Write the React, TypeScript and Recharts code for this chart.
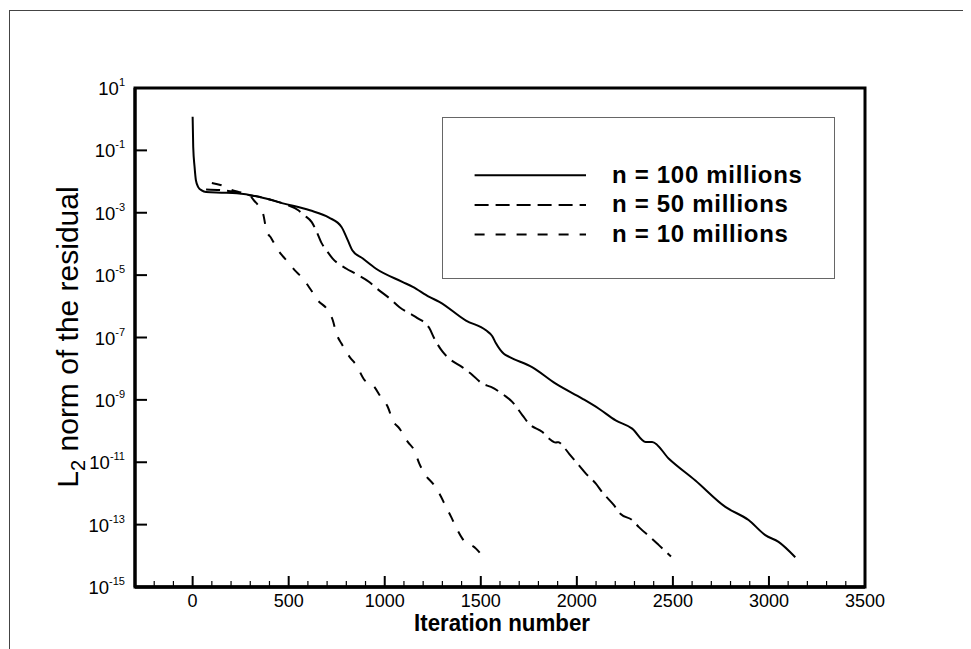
import React from 'react';
import { LineChart, Line, XAxis, YAxis, Legend, ReferenceArea, Customized } from 'recharts';

const FONT = 'Liberation Sans, Arial, Helvetica, sans-serif';

const seriesNames = ['n = 100 millions', 'n = 50 millions', 'n = 10 millions'];

const iter100 = [0, 3, 10, 17, 30, 47, 70, 150, 230, 350, 470, 610, 710, 775, 808, 831, 886, 955, 1094, 1146, 1232, 1284, 1423, 1527, 1560, 1579, 1620, 1648, 1769, 1890, 2028, 2115, 2202, 2288, 2358, 2392, 2479, 2617, 2773, 2894, 2981, 3050, 3137];
const res100 = [1.2, 0.13, 0.03, 0.011, 6.5e-3, 5.2e-3, 4.6e-3, 4.4e-3, 4.2e-3, 3.2e-3, 2.0e-3, 1.2e-3, 7e-4, 3.5e-4, 1.3e-4, 6.3e-5, 3.4e-5, 1.6e-5, 6e-6, 4.2e-6, 2e-6, 1.4e-6, 3.5e-7, 1.7e-7, 1.1e-7, 6.5e-8, 3e-8, 2.4e-8, 1.1e-8, 3.3e-9, 1.1e-9, 5.2e-10, 2.2e-10, 1.2e-10, 4.5e-11, 4.5e-11, 1.3e-11, 2.6e-12, 3.7e-13, 1.4e-13, 4.6e-14, 2.8e-14, 9e-15];

const iter50 = [70, 150, 210, 300, 350, 420, 470, 550, 584, 620, 645, 670, 696, 729, 801, 843, 921, 957, 1025, 1077, 1128, 1170, 1232, 1258, 1301, 1336, 1405, 1449, 1509, 1553, 1622, 1665, 1717, 1752, 1821, 1855, 1890, 1905, 1924, 1959, 2011, 2046, 2098, 2132, 2193, 2228, 2288, 2323, 2392, 2427, 2490];
const res50 = [5.6e-3, 5.3e-3, 4.8e-3, 3.6e-3, 3.2e-3, 2.5e-3, 2e-3, 1.2e-3, 8e-4, 5e-4, 2.5e-4, 1.1e-4, 6.3e-5, 3.4e-5, 1.6e-5, 1.15e-5, 5.9e-6, 3.8e-6, 1.8e-6, 9.3e-7, 6e-7, 4.2e-7, 2e-7, 9.3e-8, 3.5e-8, 2.1e-8, 1.1e-8, 6.9e-9, 3.3e-9, 2.6e-9, 1.4e-9, 8.5e-10, 3.2e-10, 1.7e-10, 9.3e-11, 5.8e-11, 4.3e-11, 4.4e-11, 3.5e-11, 1.9e-11, 7.9e-12, 4.4e-12, 2.1e-12, 1.1e-12, 4.2e-13, 2.2e-13, 1.4e-13, 8.3e-14, 3.5e-14, 2.2e-14, 9.5e-15];

const iter10 = [100, 150, 200, 260, 300, 324, 341, 367, 384, 410, 445, 488, 531, 574, 618, 652, 704, 730, 748, 774, 817, 852, 895, 938, 981, 1016, 1042, 1077, 1120, 1154, 1180, 1206, 1258, 1284, 1319, 1345, 1379, 1405, 1475, 1505];
const res10 = [9e-3, 7.6e-3, 5.5e-3, 4.3e-3, 3.4e-3, 2.3e-3, 1.75e-3, 9.3e-4, 2.8e-4, 1.5e-4, 6.3e-5, 3e-5, 1.45e-5, 7.8e-6, 3.2e-6, 1.55e-6, 7.4e-7, 3.5e-7, 1.35e-7, 6.5e-8, 2.4e-8, 1.3e-8, 4.3e-9, 3e-9, 1.2e-9, 5.9e-10, 2.2e-10, 1.2e-10, 4.5e-11, 2.4e-11, 9.1e-12, 4.4e-12, 1.8e-12, 1e-12, 3.7e-13, 1.8e-13, 6.6e-14, 3.5e-14, 1.7e-14, 1.05e-14];

const xMajorTicks = [0, 500, 1000, 1500, 2000, 2500, 3000, 3500];
const xAllTicks = [-300, -200, -100, 0, 100, 200, 300, 400, 500, 600, 700, 800, 900, 1000, 1100, 1200, 1300, 1400, 1500, 1600, 1700, 1800, 1900, 2000, 2100, 2200, 2300, 2400, 2500, 2600, 2700, 2800, 2900, 3000, 3100, 3200, 3300, 3400, 3500];
const yTicks = [10, 1e-1, 1e-3, 1e-5, 1e-7, 1e-9, 1e-11, 1e-13, 1e-15];

const dashes = [undefined, '14 7', '10 11'];

const toSeries = (xs: number[], ys: number[]) => xs.map((x, i) => ({ x, y: ys[i] }));
const data100 = toSeries(iter100, res100);
const data50 = toSeries(iter50, res50);
const data10 = toSeries(iter10, res10);

const XTick = (props: any) => {
  const { x, y, payload } = props;
  const v = payload.value;
  const major = xMajorTicks.includes(v);
  if (v === -300) return <g />;
  return (
    <g>
      <line x1={x} x2={x} y1={y} y2={y - (major ? 11 : 6)} stroke="#000" strokeWidth={major ? 2 : 1.2} />
      {major && (
        <text x={x} y={y + 20} textAnchor="middle" fontSize={18} fontFamily={FONT} fill="#000">
          {v}
        </text>
      )}
    </g>
  );
};

const YTick = (props: any) => {
  const { x, y, payload } = props;
  const v = payload.value;
  const exp = Math.round(Math.log10(v));
  return (
    <g>
      <line x1={x} x2={x + 12} y1={y} y2={y} stroke="#000" strokeWidth={2} />
      <text x={x - 10} y={y + 7} textAnchor="end" fontSize={18.5} fontFamily={FONT} fill="#000">
        10
        <tspan dy={-9} fontSize={11}>{exp}</tspan>
      </text>
    </g>
  );
};

const Labels = () => (
  <g>
    <text
      x={494}
      y={623}
      textAnchor="middle"
      fontSize={23}
      fontWeight="bold"
      fontFamily={FONT}
      fill="#000"
      textLength={176}
      lengthAdjust="spacingAndGlyphs"
    >
      Iteration number
    </text>
    <text
      x={70}
      y={329}
      textAnchor="middle"
      fontSize={30}
      fontFamily={FONT}
      fill="#000"
      transform="rotate(-90, 70, 329)"
    >
      L
      <tspan dy={7} fontSize={20}>2</tspan>
      <tspan dy={-7}> norm of the residual</tspan>
    </text>
  </g>
);

const renderLegend = () => (
  <svg width={393} height={162} style={{ display: 'block' }}>
    <rect x={0.5} y={0.5} width={392} height={161} fill="#fff" stroke="#666" strokeWidth={1} />
    {seriesNames.map((name, i) => {
      const cy = 58.3 + i * 29.6;
      return (
        <g key={name}>
          <line x1={32.6} x2={144} y1={cy} y2={cy} stroke="#000" strokeWidth={2} strokeDasharray={dashes[i]} />
          <text x={170} y={cy + 7.5} fontSize={24} fontWeight="bold" fontFamily={FONT} fill="#000" letterSpacing={0.7}>
            {name}
          </text>
        </g>
      );
    })}
  </svg>
);

export default function App() {
  return (
    <div style={{ position: 'relative', width: 963, height: 641 }}>
      <div
        style={{
          position: 'absolute',
          left: 1,
          top: 2,
          width: 962,
          height: 639,
          borderTop: '1px solid #444',
          borderLeft: '1px solid #444',
        }}
      />
      <LineChart width={963} height={641} margin={{ top: 80, right: 106, left: 67, bottom: 22 }}>
        <XAxis
          type="number"
          dataKey="x"
          domain={[-300, 3500]}
          ticks={xAllTicks}
          interval={0}
          allowDataOverflow
          tick={<XTick />}
          tickLine={false}
          tickSize={0}
          tickMargin={0}
          height={40}
          axisLine={{ stroke: '#000', strokeWidth: 3.5 }}
        />
        <YAxis
          type="number"
          dataKey="y"
          scale="log"
          domain={[1e-15, 10]}
          ticks={yTicks}
          interval={0}
          allowDataOverflow
          tick={<YTick />}
          tickLine={false}
          tickSize={0}
          tickMargin={0}
          width={60}
          axisLine={{ stroke: '#000', strokeWidth: 3 }}
        />
        <ReferenceArea x1={-300} x2={3500} y1={1e-15} y2={10} fill="none" fillOpacity={0} stroke="#000" strokeWidth={3} ifOverflow="visible" />
        <Line data={data100} dataKey="y" type="monotone" stroke="#000" strokeWidth={2} dot={false} isAnimationActive={false} name={seriesNames[0]} />
        <Line data={data50} dataKey="y" type="monotone" stroke="#000" strokeWidth={2} strokeDasharray={dashes[1]} dot={false} isAnimationActive={false} name={seriesNames[1]} />
        <Line data={data10} dataKey="y" type="monotone" stroke="#000" strokeWidth={2} strokeDasharray={dashes[2]} dot={false} isAnimationActive={false} name={seriesNames[2]} />
        <Legend
          layout="horizontal"
          verticalAlign="middle"
          align="center"
          content={renderLegend}
          wrapperStyle={{ position: 'absolute', left: 433.7, top: 108.7, width: 393, height: 162 }}
        />
        <Customized component={Labels} />
      </LineChart>
    </div>
  );
}
